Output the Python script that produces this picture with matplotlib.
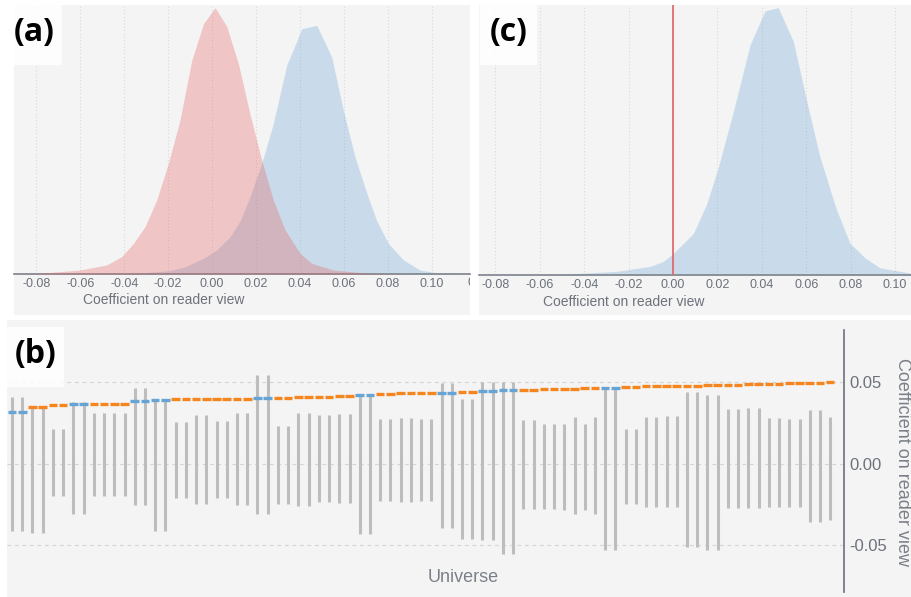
import matplotlib.pyplot as plt
from matplotlib.patches import Rectangle
from matplotlib.transforms import Bbox, TransformedBbox, blended_transform_factory
import numpy as np

plt.rcParams['font.family'] = ['Liberation Sans', 'DejaVu Sans']
plt.rcParams['axes.unicode_minus'] = False

# ---- panel (a) / (c): posterior densities (normalised heights) ----
pink_x = [-0.0900, -0.0799, -0.0601, -0.0480, -0.0412, -0.0358, -0.0305, -0.0252,
          -0.0199, -0.0146, -0.0093, -0.0039, 0.0014, 0.0067, 0.0120, 0.0173,
          0.0226, 0.0279, 0.0333, 0.0401, 0.0454, 0.0553, 0.0705, 0.0900]
pink_y = [0.0, 0.002, 0.015, 0.034, 0.065, 0.115, 0.178, 0.278,
          0.415, 0.578, 0.80, 0.94, 1.0, 0.93, 0.79, 0.60,
          0.428, 0.278, 0.165, 0.078, 0.040, 0.015, 0.003, 0.0]

blue_a_x = [-0.0389, -0.0191, -0.0123, -0.0039, 0.0021, 0.0082, 0.0128, 0.0173,
            0.0226, 0.0279, 0.0340, 0.0409, 0.0477, 0.0545, 0.0598, 0.0651,
            0.0705, 0.0750, 0.0803, 0.0872, 0.0948, 0.1039, 0.1160]
blue_a_y = [0.0, 0.0125, 0.0275, 0.059, 0.09, 0.14, 0.20, 0.29,
            0.415, 0.565, 0.784, 0.921, 0.934, 0.815, 0.615, 0.44,
            0.303, 0.20, 0.115, 0.0525, 0.015, 0.0025, 0.0]

blue_c_x = [-0.0569, -0.0254, -0.0104, -0.0044, 0.0002, 0.0092, 0.0152, 0.0204,
            0.0272, 0.0347, 0.0414, 0.0474, 0.0542, 0.0602, 0.0662, 0.0737,
            0.0797, 0.0865, 0.0932, 0.1068]
blue_c_y = [0.0, 0.0136, 0.0322, 0.0507, 0.0817, 0.156, 0.267, 0.403,
            0.613, 0.861, 0.988, 1.0, 0.874, 0.651, 0.441, 0.243,
            0.119, 0.064, 0.027, 0.0074]

ticks_a = [-0.08, -0.06, -0.04, -0.02, 0.00, 0.02, 0.04, 0.06, 0.08, 0.10]
ticks_c = [-0.08, -0.06, -0.04, -0.02, 0.00, 0.02, 0.04, 0.06, 0.08, 0.10]

# ---- panel (b): multiverse of estimates ----
upper = [0.0410, 0.0410, 0.0349, 0.0349, 0.0212, 0.0212, 0.0380, 0.0380, 0.0308, 0.0308,
         0.0312, 0.0312, 0.0463, 0.0463, 0.0390, 0.0390, 0.0253, 0.0253, 0.0298, 0.0298,
         0.0259, 0.0259, 0.0308, 0.0308, 0.0541, 0.0541, 0.0231, 0.0231, 0.0308, 0.0308,
         0.0300, 0.0300, 0.0304, 0.0304, 0.0420, 0.0420, 0.0271, 0.0271, 0.0280, 0.0280,
         0.0271, 0.0271, 0.0492, 0.0492, 0.0398, 0.0398, 0.0500, 0.0500, 0.0498, 0.0498,
         0.0267, 0.0267, 0.0241, 0.0241, 0.0241, 0.0284, 0.0241, 0.0284, 0.0467, 0.0467,
         0.0214, 0.0214, 0.0286, 0.0286, 0.0292, 0.0292, 0.0439, 0.0439, 0.0422, 0.0422,
         0.0337, 0.0337, 0.0343, 0.0343, 0.0280, 0.0280, 0.0276, 0.0276, 0.0327, 0.0327,
         0.0286]
lower = [-0.0414, -0.0414, -0.0422, -0.0422, -0.0196, -0.0196, -0.0308, -0.0308, -0.0198, -0.0198,
         -0.0198, -0.0198, -0.0253, -0.0253, -0.0412, -0.0412, -0.0208, -0.0208, -0.0249, -0.0249,
         -0.0212, -0.0212, -0.0255, -0.0255, -0.0310, -0.0310, -0.0245, -0.0245, -0.0257, -0.0257,
         -0.0237, -0.0237, -0.0239, -0.0239, -0.0433, -0.0433, -0.0227, -0.0227, -0.0235, -0.0235,
         -0.0231, -0.0231, -0.0396, -0.0396, -0.0463, -0.0463, -0.0467, -0.0467, -0.0551, -0.0551,
         -0.0278, -0.0278, -0.0280, -0.0280, -0.0284, -0.0308, -0.0284, -0.0308, -0.0525, -0.0525,
         -0.0247, -0.0247, -0.0263, -0.0263, -0.0267, -0.0267, -0.0508, -0.0508, -0.0525, -0.0525,
         -0.0271, -0.0271, -0.0271, -0.0271, -0.0263, -0.0263, -0.0267, -0.0267, -0.0355, -0.0355,
         -0.0347]
estimate = [0.0314, 0.0314, 0.0349, 0.0349, 0.0361, 0.0361, 0.0363, 0.0363, 0.0365, 0.0365,
            0.0367, 0.0367, 0.0384, 0.0384, 0.0390, 0.0392, 0.0394, 0.0394, 0.0396, 0.0396,
            0.0396, 0.0396, 0.0398, 0.0398, 0.0400, 0.0400, 0.0402, 0.0402, 0.0406, 0.0406,
            0.0408, 0.0408, 0.0414, 0.0414, 0.0422, 0.0422, 0.0427, 0.0427, 0.0431, 0.0431,
            0.0431, 0.0431, 0.0435, 0.0435, 0.0437, 0.0437, 0.0445, 0.0445, 0.0449, 0.0449,
            0.0453, 0.0453, 0.0455, 0.0455, 0.0459, 0.0459, 0.0461, 0.0461, 0.0463, 0.0463,
            0.0467, 0.0467, 0.0474, 0.0474, 0.0476, 0.0476, 0.0476, 0.0476, 0.0480, 0.0480,
            0.0482, 0.0482, 0.0486, 0.0486, 0.0490, 0.0490, 0.0494, 0.0494, 0.0496, 0.0496,
            0.0498]
highlighted = [0, 1, 6, 7, 12, 13, 14, 15, 24, 25, 34, 35, 42, 43, 46, 47, 48, 49, 58, 59]
ticks_b = [-0.05, 0.00, 0.05]

W, H = 911, 597
BG = '#f4f4f4'
TXT = '#6c717a'
PINK, BLUE = '#e75b5b', '#68a4d3'


def px(x0, y0, x1, y1):
    # pixel box (top-left origin) -> figure fraction [l, b, w, h]
    return [x0 / W, 1 - y1 / H, (x1 - x0) / W, (y1 - y0) / H]


fig = plt.figure(figsize=(W / 100, H / 100), dpi=100)

for box in [(14, 5, 470, 315), (479, 5, 911, 315), (7, 320, 911, 597)]:
    l, b, w, h = px(*box)
    fig.add_artist(Rectangle((l, b), w, h, transform=fig.transFigure,
                             facecolor=BG, edgecolor='none', zorder=-10))

ax_a = fig.add_axes(px(14, 5, 470, 274))
ax_c = fig.add_axes(px(479, 5, 911, 275))
ax_b = fig.add_axes(px(7, 330, 844, 592))


def density_axes(ax, xlim, ticks):
    ax.set_facecolor('none')
    ax.set_xlim(xlim)
    ax.set_ylim(0, 1.01)
    ax.set_yticks([])
    for s in ['left', 'right', 'top']:
        ax.spines[s].set_visible(False)
    ax.spines['bottom'].set_color('#7d838c')
    ax.spines['bottom'].set_linewidth(1.2)
    ax.set_xticks(ticks)
    ax.set_xticklabels([f'{t:.2f}' for t in ticks])
    ax.tick_params(axis='x', length=0, pad=3, labelsize=9, labelcolor=TXT)
    for t in ticks:
        ax.axvline(t, color='#d9d9d9', lw=0.8, ls=(0, (1, 2)), zorder=0)


density_axes(ax_a, (-0.0902, 0.1175), ticks_a)
ax_a.fill_between(blue_a_x, 0, blue_a_y, color=BLUE, alpha=0.3, lw=0, zorder=2)
ax_a.fill_between(pink_x, 0, pink_y, color=PINK, alpha=0.3, lw=0, zorder=3)
ax_a.axvline(0.12, color='#d9d9d9', lw=0.8, ls=(0, (1, 2)), zorder=0)
# only the first glyph of the cut-off "0.12" label shows at the panel edge
lab = fig.text(0.1162, 1 - 283 / H, '0', fontsize=9, color=TXT, ha='left', va='center',
               transform=blended_transform_factory(ax_a.transData, fig.transFigure))
lab.set_clip_box(TransformedBbox(Bbox.from_extents(0, 0, 470 / W, 1), fig.transFigure))
lab.set_clip_on(True)

density_axes(ax_c, (-0.0874, 0.1072), ticks_c)
ax_c.fill_between(blue_c_x, 0, blue_c_y, color=BLUE, alpha=0.3, lw=0, zorder=2)
ax_c.axvline(0.0, color='#e06262', lw=1.2, zorder=4)

fig.text(164 / W, 1 - 300 / H, 'Coefficient on reader view', fontsize=10,
         color=TXT, ha='center', va='center')
fig.text(624 / W, 1 - 302 / H, 'Coefficient on reader view', fontsize=10,
         color=TXT, ha='center', va='center')

# ---- panel (b) ----
idx = np.arange(len(estimate))
ax_b.set_facecolor('none')
ax_b.vlines(idx, lower, upper, color='#bdbdbd', lw=2.2, zorder=2)
dash_colors = [BLUE if i in highlighted else '#f5851f' for i in idx]
ax_b.hlines(estimate, idx - 0.42, idx + 0.42, colors=dash_colors, lw=2.4, zorder=3)
ax_b.set_xlim(-0.49, 81.35)
ax_b.set_ylim(-0.0785, 0.0818)
ax_b.set_xticks([])
ax_b.yaxis.tick_right()
ax_b.set_yticks(ticks_b)
ax_b.set_yticklabels([f'{t:.2f}' for t in ticks_b])
ax_b.tick_params(axis='y', length=0, pad=4, labelsize=12, labelcolor=TXT)
for s in ['left', 'top', 'bottom']:
    ax_b.spines[s].set_visible(False)
ax_b.spines['right'].set_color('#6c717a')
ax_b.spines['right'].set_linewidth(1.2)
for t in ticks_b:
    ax_b.axhline(t, color='#d6d6d6', lw=0.9, ls=(0, (3, 3)), zorder=0)

fig.text(463 / W, 1 - 578 / H, 'Universe', fontsize=13, color='#7b8088',
         ha='center', va='center')
fig.text(902 / W, 1 - 462 / H, 'Coefficient on reader view', fontsize=13,
         color='#7b8088', rotation=270, ha='center', va='center')

# panel letters on white boxes
for (x0, y0, x1, y1), letter in [((7, 5, 62, 65), '(a)'), ((480, 5, 537, 65), '(c)'),
                                 ((7, 327, 64, 387), '(b)')]:
    l, b, w, h = px(x0, y0, x1, y1)
    fig.add_artist(Rectangle((l, b), w, h, transform=fig.transFigure,
                             facecolor='white', edgecolor='none', alpha=0.85, zorder=5))
    fig.text(l + w / 2, b + h / 2 + 0.004, letter, fontsize=23, fontweight='bold',
             family=['Open Sans', 'DejaVu Sans'], ha='center', va='center', zorder=6)

fig.savefig('out.png', dpi=100, facecolor='white')
